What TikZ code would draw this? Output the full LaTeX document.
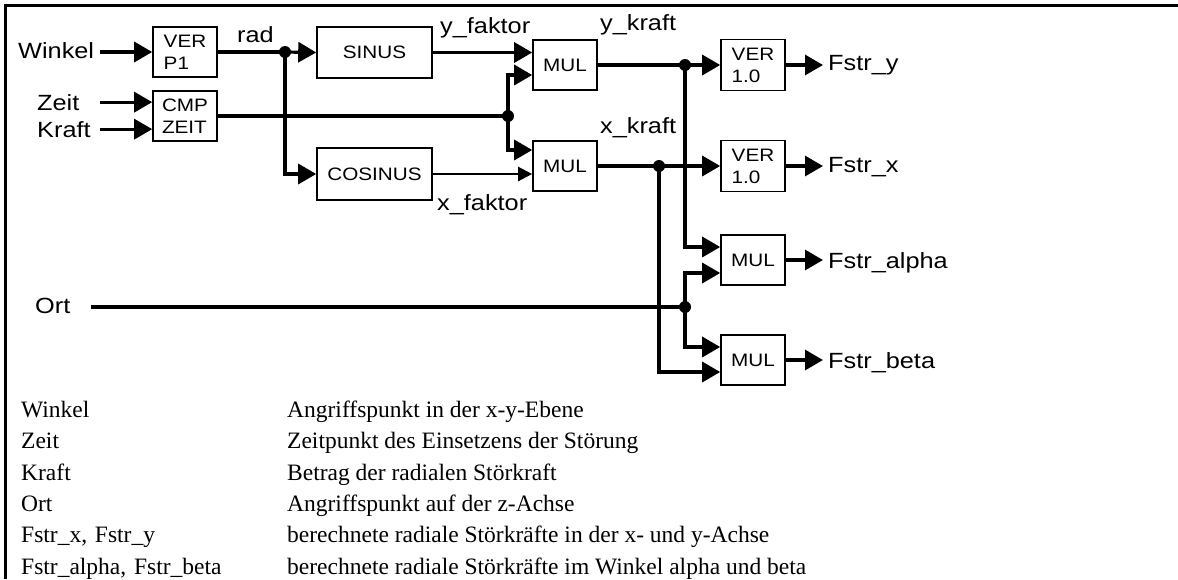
\documentclass[tikz,border=0pt]{standalone}
\usepackage{fontspec}
\setmainfont{Liberation Serif}
\newfontfamily\diafont[FakeStretch=1.15]{Liberation Sans}
\usetikzlibrary{arrows.meta,calc,matrix}

\tikzset{
  blk/.style={draw, line width=1.6pt, font=\diafont\fontsize{18}{22}\selectfont, align=left,
    inner sep=0pt, minimum width=64pt, minimum height=50pt},
  lbl/.style={font=\diafont\fontsize{22}{26}\selectfont, inner sep=0pt, anchor=base west},
  wire/.style={line width=3.2pt},
  sig/.style={wire, -{Triangle[length=18pt,width=20pt]}},
  thinsig/.style={line width=2.2pt, -{Triangle[length=14pt,width=14pt]}},
  dot/.style={circle, fill, inner sep=0pt, minimum size=12pt}
}

\begin{document}
\begin{tikzpicture}[x=1pt,y=-1pt]
\useasboundingbox (0,0) rectangle (1178,579);
\draw[line width=3.2pt] (5.5,579) -- (5.5,5.5) -- (1178,5.5);

% blocks
\node[blk] (ver) at (185,52) {VER\\P1};
\node[blk] (cmp) at (185,116) {CMP\\ZEIT};
\node[blk, minimum width=115pt, minimum height=51pt] (sin) at (374.5,52.5) {SINUS};
\node[blk, minimum width=115pt, minimum height=52pt] (cos) at (374.5,174) {COSINUS};
\node[blk] (mul1) at (565,65) {MUL};
\node[blk] (mul2) at (565,166) {MUL};
\node[blk, minimum height=51pt] (ver1) at (753,65) {VER\\1.0};
\node[blk, minimum height=51pt] (ver2) at (753,166) {VER\\1.0};
\node[blk] (mul3) at (753,260) {MUL};
\node[blk] (mul4) at (753,360) {MUL};

% signal names
\node[lbl] (winkel) at (18,58) {Winkel};
\node[lbl] (zeit) at (37,110) {Zeit};
\node[lbl] (kraft) at (37,137) {Kraft};
\node[lbl] (ort) at (35,313) {Ort};
\node[lbl] (rad) at (237,42) {rad};
\node[lbl] (yfak) at (440,33) {y\_faktor};
\node[lbl] (xfak) at (437,210) {x\_faktor};
\node[lbl] (ykraft) at (600,30) {y\_kraft};
\node[lbl] (xkraft) at (600,133) {x\_kraft};
\node[lbl] (fy) at (828,70) {Fstr\_y};
\node[lbl] (fx) at (828,172) {Fstr\_x};
\node[lbl] (falpha) at (828,268) {Fstr\_alpha};
\node[lbl] (fbeta) at (828,368) {Fstr\_beta};

% branch points
\node[dot] (jrad) at (285,52) {};
\node[dot] (jcmp) at (508,116) {};
\node[dot] (jy) at (685,65) {};
\node[dot] (jx) at (659,166) {};
\node[dot] (jort) at (685,307) {};

% connections
\draw[sig, shorten <=6pt] (winkel.east |- ver.west) -- (ver.west);
\draw[sig, shorten <=6pt] (winkel.east |- zeit) -- (cmp.west |- zeit);
\draw[sig, shorten <=6pt] (winkel.east |- kraft) -- (cmp.west |- kraft);
\draw[wire] (ver.east) -- (jrad.center);
\draw[sig] (jrad.center) -- (sin.west);
\draw[sig] (jrad.center) |- (cos.west);
\draw[wire] (cmp.east) -- (jcmp.center);
\draw[sig] (jcmp.center) |- ($(mul1.west)+(0,10)$);
\draw[sig] (jcmp.center) |- ($(mul2.west)+(0,-16)$);
\draw[sig] (sin.east) -- (sin.east -| mul1.west);
\draw[thinsig] (cos.east) -- (cos.east -| mul2.west);
\draw[wire] (mul1.east) -- (jy.center);
\draw[sig] (jy.center) -- (ver1.west);
\draw[sig] (jy.center) |- ($(mul3.west)+(0,-13)$);
\draw[wire] (mul2.east) -- (jx.center);
\draw[sig] (jx.center) -- (ver2.west);
\draw[sig] (jx.center) |- ($(mul4.west)+(0,12)$);
\draw[wire, shorten <=20pt] (ort.east |- jort) -- (jort.center);
\draw[sig] (jort.center) |- ($(mul3.west)+(0,13)$);
\draw[sig] (jort.center) |- ($(mul4.west)+(0,-13)$);
\path[sig, shorten >=5pt]
  (ver1.east) edge (ver1.east -| fy.west)
  (ver2.east) edge (ver2.east -| fx.west)
  (mul3.east) edge (mul3.east -| falpha.west)
  (mul4.east) edge (mul4.east -| fbeta.west);

% legend
\matrix (leg) [matrix of nodes, anchor=north west, inner sep=0pt, row sep=8.4pt,
  ampersand replacement=\&,
  nodes={inner sep=0pt, font=\fontsize{23.5}{27}\selectfont, text height=17pt, text depth=6pt, anchor=base west},
  column 1/.style={nodes={text width=266pt}}] at (21,400)
{
  Winkel \& Angriffspunkt in der x-y-Ebene \\
  Zeit \& Zeitpunkt des Einsetzens der Störung \\
  Kraft \& Betrag der radialen Störkraft \\
  Ort \& Angriffspunkt auf der z-Achse \\
  Fstr\_x, Fstr\_y \& berechnete radiale Störkräfte in der x- und y-Achse \\
  Fstr\_alpha, Fstr\_beta \& berechnete radiale Störkräfte im Winkel alpha und beta \\
};
\end{tikzpicture}
\end{document}
